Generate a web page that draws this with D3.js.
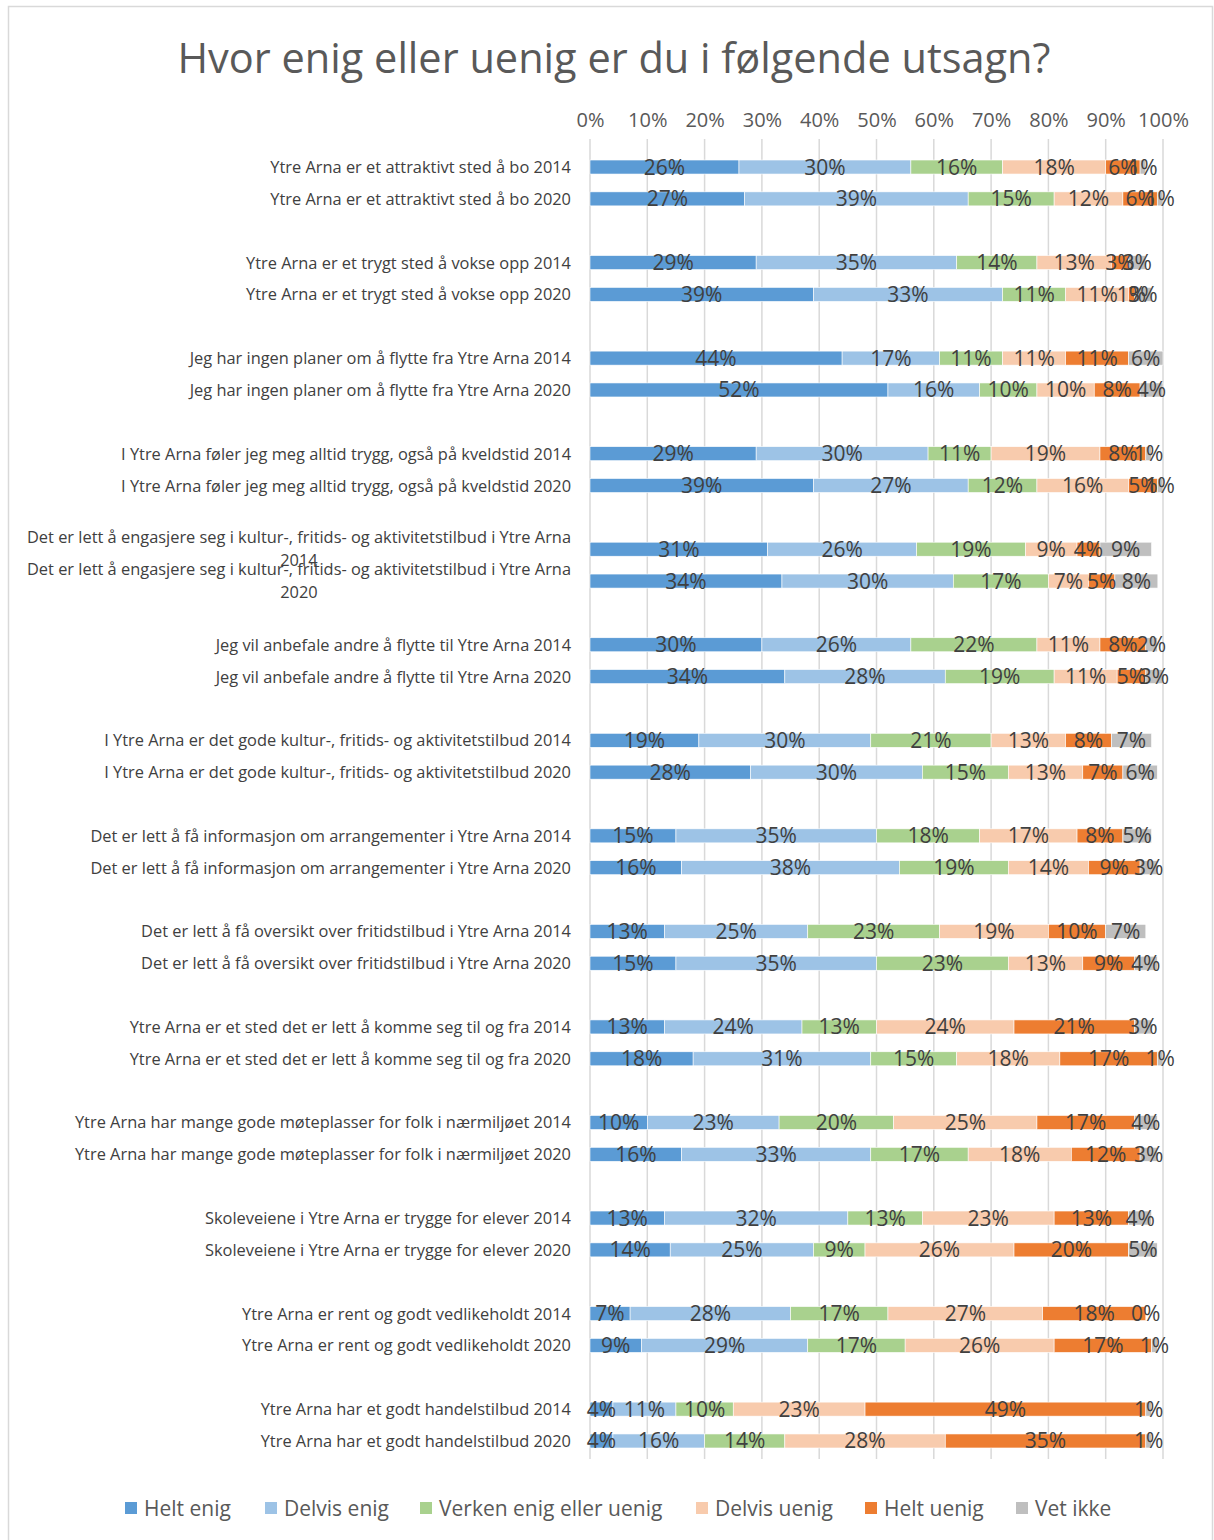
<!DOCTYPE html>
<html><head><meta charset="utf-8">
<script src="https://cdn.jsdelivr.net/npm/d3@7/dist/d3.min.js"></script>
<style>
html,body{margin:0;padding:0;background:#fff;}
svg{display:block;font-family:"Open Sans",sans-serif;}
</style></head>
<body><svg id="chart" width="1214" height="1540"></svg>
<script>
const title = "Hvor enig eller uenig er du i følgende utsagn?";
const seriesNames = ["Helt enig","Delvis enig","Verken enig eller uenig","Delvis uenig","Helt uenig","Vet ikke"];
const seriesColors = ["#5B9BD5","#9DC3E6","#A9D18E","#F8CBAD","#ED7D31","#BFBFBF"];
const statements = [
  "Ytre Arna er et attraktivt sted å bo",
  "Ytre Arna er et trygt sted å vokse opp",
  "Jeg har ingen planer om å flytte fra Ytre Arna",
  "I Ytre Arna føler jeg meg alltid trygg, også på kveldstid",
  "Det er lett å engasjere seg i kultur-, fritids- og aktivitetstilbud i Ytre Arna",
  "Jeg vil anbefale andre å flytte til Ytre Arna",
  "I Ytre Arna er det gode kultur-, fritids- og aktivitetstilbud",
  "Det er lett å få informasjon om arrangementer i Ytre Arna",
  "Det er lett å få oversikt over fritidstilbud i Ytre Arna",
  "Ytre Arna er et sted det er lett å komme seg til og fra",
  "Ytre Arna har mange gode møteplasser for folk i nærmiljøet",
  "Skoleveiene i Ytre Arna er trygge for elever",
  "Ytre Arna er rent og godt vedlikeholdt",
  "Ytre Arna har et godt handelstilbud"
];
const years = ["2014","2020"];
// values (%) per statement, each [Helt enig, Delvis enig, Verken, Delvis uenig, Helt uenig, Vet ikke]
const values2014 = [
  [26,30,16,18,6,1],
  [29,35,14,13,3,3],
  [44,17,11,11,11,6],
  [29,30,11,19,8,1],
  [31,26,19,9,4,9],
  [30,26,22,11,8,2],
  [19,30,21,13,8,7],
  [15,35,18,17,8,5],
  [13,25,23,19,10,7],
  [13,24,13,24,21,3],
  [10,23,20,25,17,4],
  [13,32,13,23,13,4],
  [7,28,17,27,18,0],
  [4,11,10,23,49,1]
];
const values2020 = [
  [27,39,15,12,6,1],
  [39,33,11,11,1,3],
  [52,16,10,10,8,4],
  [39,27,12,16,5,1],
  [33.5,29.9,16.6,7,4.6,7.5],
  [34,28,19,11,5,3],
  [28,30,15,13,7,6],
  [16,38,19,14,9,3],
  [15,35,23,13,9,4],
  [18,31,15,18,17,1],
  [16,33,17,18,12,3],
  [14,25,9,26,20,5],
  [9,29,17,26,17,1],
  [4,16,14,28,35,1]
];
const tickValues = [0,10,20,30,40,50,60,70,80,90,100];

// Build rows (with blank spacer slots between statement pairs)
const rows = [];
const slots = [];
statements.forEach((s,i)=>{
  if(i>0) slots.push("gap"+i);
  [values2014[i], values2020[i]].forEach((vals,j)=>{
    const key = "r"+i+"_"+j;
    slots.push(key);
    rows.push({key, label: s+" "+years[j], stmt:s, year:years[j], vals});
  });
});

const svg = d3.select("#chart");
const textColor = "#404040";
const axisColor = "#595959";

// chart border
svg.append("rect").attr("x",8.5).attr("y",6.5).attr("width",1204).attr("height",1545)
  .attr("fill","none").attr("stroke","#d9d9d9").attr("stroke-width",1.5);

svg.append("text").attr("x",614).attr("y",73).attr("text-anchor","middle")
  .attr("font-size",41.5).attr("fill",axisColor).text(title);

const x = d3.scaleLinear().domain([0,100]).range([590,1163]);
const y = d3.scaleBand().domain(slots).range([151.1,1456.9]).paddingInner(0.56).paddingOuter(0.28);

// gridlines
svg.append("g").selectAll("line").data(tickValues).join("line")
  .attr("x1",d=>x(d)).attr("x2",d=>x(d)).attr("y1",139).attr("y2",1459)
  .attr("stroke","#d9d9d9").attr("stroke-width",1.5);

// top axis labels
const axis = d3.axisTop(x).tickValues(tickValues).tickFormat(d=>d+"%").tickSize(0).tickPadding(0);
const ag = svg.append("g").attr("transform","translate(0,127)").call(axis);
ag.select(".domain").remove();
ag.selectAll("text").attr("font-size",20).attr("fill",axisColor).attr("font-family","Open Sans").attr("dy",0);

// bars
const barG = svg.append("g");
rows.forEach(r=>{
  let acc = 0;
  const segs = r.vals.map((v,k)=>{ const s={x0:acc,x1:acc+v,v,k}; acc+=v; return s; });
  const yy = y(r.key);
  const bh = y.bandwidth();
  const g = barG.append("g");
  g.selectAll("rect").data(segs).join("rect")
    .attr("x",d=>x(d.x0)).attr("width",d=>x(d.x1)-x(d.x0))
    .attr("y",yy).attr("height",bh)
    .attr("fill",d=>seriesColors[d.k]).attr("stroke","#fff").attr("stroke-width",0.6);
  g.selectAll("text").data(segs).join("text")
    .attr("x",d=>x((d.x0+d.x1)/2)).attr("y",yy+bh/2+7.5)
    .attr("text-anchor","middle").attr("font-size",21).attr("fill",textColor)
    .text(d=>Math.round(d.v)+"%");
});

// category labels
const lg = svg.append("g");
const catSize = 16.4;
rows.forEach(r=>{
  const cy = y(r.key)+y.bandwidth()/2;
  if(r.label.length>70){
    const t = lg.append("text").attr("font-size",catSize).attr("fill",textColor);
    const l1 = t.append("tspan").attr("x",571).attr("text-anchor","end").attr("y",cy-6).text(r.stmt);
    const w = l1.node().getComputedTextLength();
    lg.append("text").attr("font-size",catSize).attr("fill",textColor)
      .attr("x",571-w/2).attr("y",cy+17).attr("text-anchor","middle").text(r.year);
  } else {
    lg.append("text").attr("x",571).attr("y",cy+6).attr("text-anchor","end")
      .attr("font-size",catSize).attr("fill",textColor).text(r.label);
  }
});

// legend
const legX = [125,265,420,696,865,1016];
const leg = svg.append("g");
seriesNames.forEach((n,i)=>{
  leg.append("rect").attr("x",legX[i]).attr("y",1502).attr("width",12).attr("height",12).attr("fill",seriesColors[i]);
  leg.append("text").attr("x",legX[i]+19).attr("y",1515.5).attr("font-size",21).attr("fill",axisColor).text(n);
});
</script></body></html>
